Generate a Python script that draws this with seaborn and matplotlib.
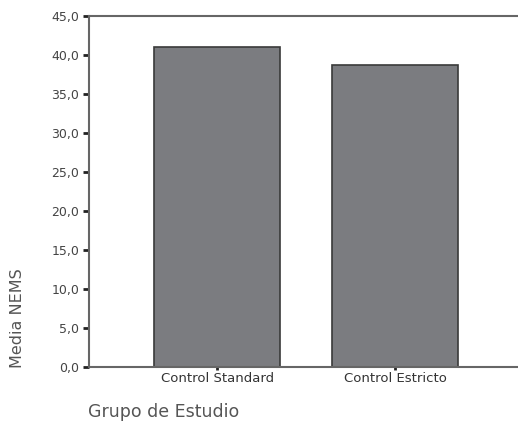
import numpy as np
import pandas as pd
import seaborn as sns
from matplotlib import pyplot as plt
from matplotlib.ticker import FuncFormatter

grupos = ["Control Standard", "Control Estricto"]
media_nems = [41.1, 38.7]

data = pd.DataFrame({"grupo": grupos, "nems": media_nems})

sns.set_style("white")
plt.rcParams["font.family"] = ["DejaVu Sans"]

fig = plt.figure(figsize=(5.18, 4.23), dpi=100)
ax = fig.add_axes([89 / 518, 1 - 366.5 / 423, 1 - 89 / 518 + 0.01, 350 / 423])

sns.barplot(data=data, x="grupo", y="nems", color="#7b7c80", saturation=1,
            width=0.71, edgecolor="#3a3a3a", linewidth=1.2, ax=ax)

ax.set_ylim(0, 45)
ax.set_xlim(-0.72, 1.72)
ax.set_yticks(np.arange(0, 46, 5))
ax.yaxis.set_major_formatter(FuncFormatter(lambda v, p: f"{v:.1f}".replace(".", ",")))

for side in ["left", "bottom", "top"]:
    ax.spines[side].set_visible(True)
    ax.spines[side].set_color("#666666")
    ax.spines[side].set_linewidth(1.5)
ax.spines["right"].set_visible(False)

ax.tick_params(axis="y", direction="out", length=4, width=2, color="#222222",
               labelsize=9, labelcolor="#444444", pad=3, left=True)
ax.tick_params(axis="x", direction="out", length=2, width=2, color="#222222",
               labelsize=9.5, labelcolor="#333333", pad=2, bottom=True)

ax.set_xlabel("")
ax.set_ylabel("")
fig.text(18 / 518, 1 - 318 / 423, "Media NEMS", rotation=90, ha="center", va="center",
         fontsize=11.5, color="#555555")
fig.text(88 / 518, 2 / 423, "Grupo de Estudio", ha="left", va="bottom",
         fontsize=12.5, color="#555555")

plt.savefig("out.png", dpi=100)
plt.close()
